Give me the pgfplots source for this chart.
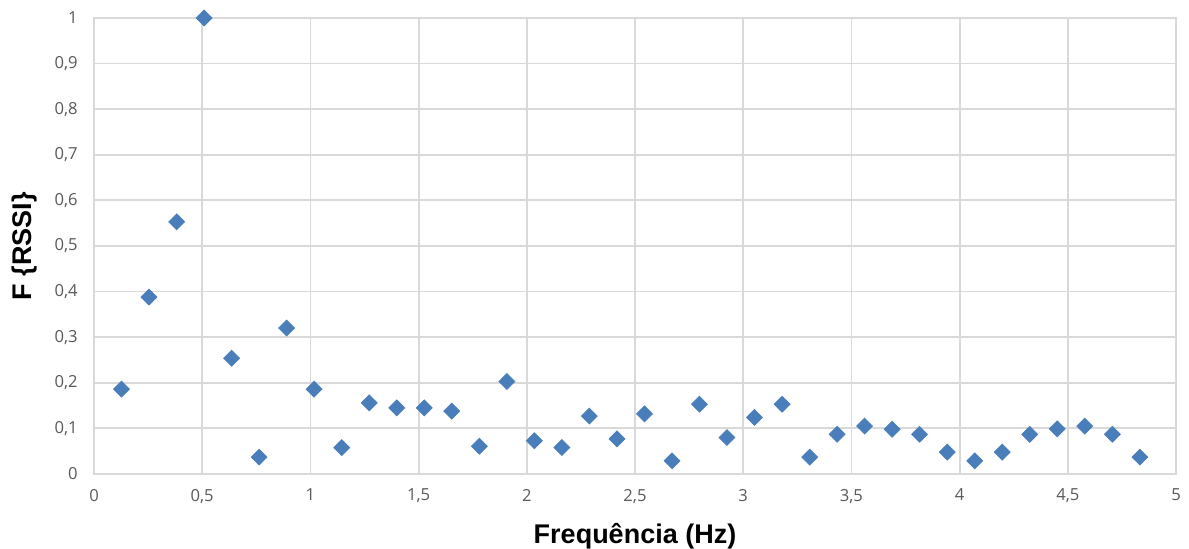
\documentclass[border=0pt]{standalone}
\usepackage{fontspec}
\setmainfont{Liberation Sans}
\newfontfamily\tickfont{Open Sans}
\usepackage{pgfplots}
\pgfplotsset{compat=1.18}
\definecolor{xlblue}{RGB}{74,126,187}
\definecolor{xlgrid}{RGB}{217,217,217}
\definecolor{xltick}{RGB}{89,89,89}

\begin{document}
\begin{tikzpicture}
\begin{axis}[
    scale only axis,
    width=541pt, height=228pt,
    xmin=0, xmax=5, ymin=0, ymax=1,
    xtick={0,0.5,...,5},
    ytick={0,0.1,...,1},
    major tick length=0pt,
    grid=major,
    grid style={xlgrid, line width=0.9pt},
    axis line style={xlgrid, line width=0.9pt},
    /pgf/number format/.cd, use comma, assume math mode=true, fixed,
    /pgfplots/.cd,
    tick label style={font=\tickfont\fontsize{8.3}{10}\selectfont, text=xltick},
    yticklabel style={inner xsep=0pt, xshift=-8pt},
    xticklabel style={yshift=-4pt},
    xlabel={\textbf{Frequência (Hz)}},
    ylabel={\textbf{F \{RSSI\}}},
    label style={font=\fontsize{13.5}{15}\selectfont},
    xlabel style={at={(axis description cs:0.5,0)}, anchor=center, yshift=-31pt},
    ylabel style={at={(axis description cs:0,0.5)}, anchor=center, yshift=34.5pt},
]
\addplot[only marks, mark=square*, mark size=2.8pt,
         mark options={rotate=45, fill=xlblue, draw=xlblue}]
coordinates {
(0.127,0.186) (0.254,0.388) (0.382,0.553) (0.509,1.000) (0.636,0.254)
(0.763,0.037) (0.890,0.320) (1.017,0.186) (1.145,0.058) (1.272,0.156)
(1.399,0.145) (1.526,0.145) (1.653,0.138) (1.781,0.061) (1.908,0.203)
(2.035,0.073) (2.162,0.058) (2.289,0.127) (2.417,0.077) (2.544,0.132)
(2.671,0.029) (2.798,0.153) (2.925,0.080) (3.052,0.124) (3.180,0.153)
(3.307,0.037) (3.434,0.087) (3.561,0.105) (3.688,0.098) (3.815,0.087)
(3.943,0.048) (4.070,0.029) (4.197,0.048) (4.324,0.087) (4.451,0.099)
(4.578,0.105) (4.706,0.087) (4.833,0.037)
};
\end{axis}
\pgfresetboundingbox
\path[use as bounding box]
    ([shift={(-47pt,-37.5pt)}]current axis.south west)
    rectangle ([shift={(6.5pt,9pt)}]current axis.north east);
\end{tikzpicture}
\end{document}
